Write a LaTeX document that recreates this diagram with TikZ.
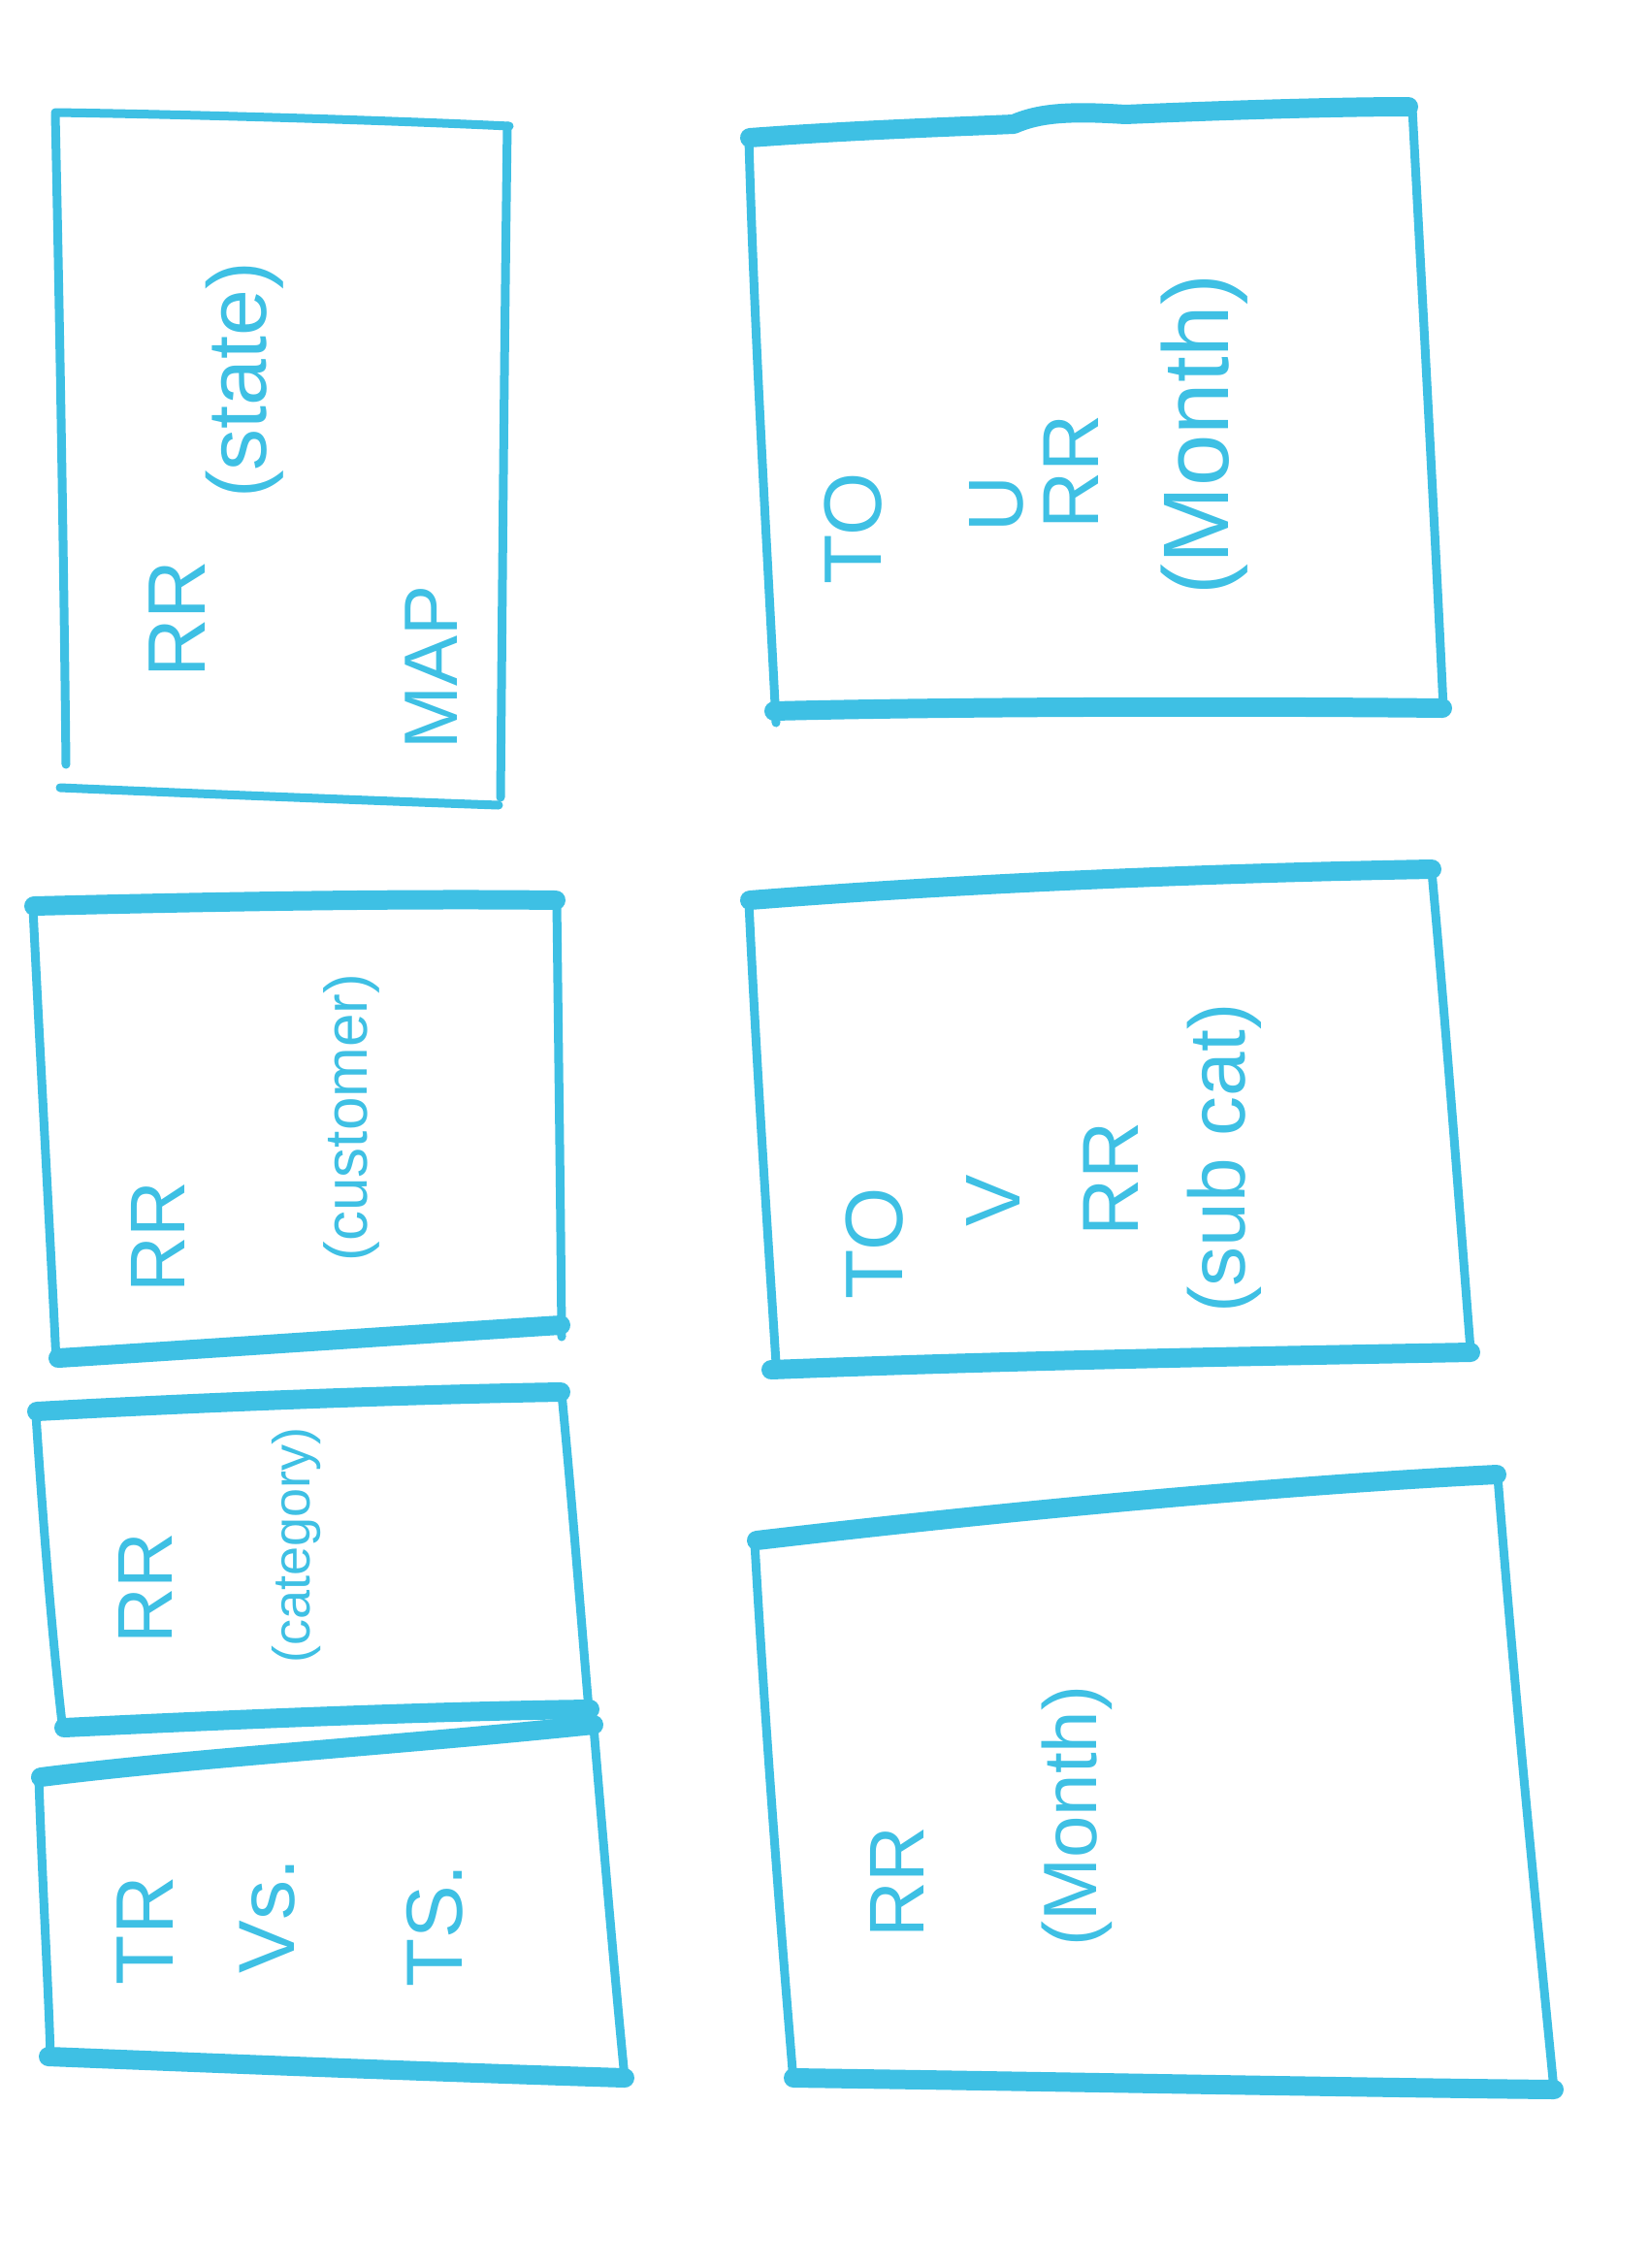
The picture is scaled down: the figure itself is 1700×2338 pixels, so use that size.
\documentclass[tikz,border=0pt]{standalone}
\usepackage{fontspec}
\setmainfont{Liberation Sans}
\definecolor{mk}{RGB}{62,192,228}
\tikzset{
  thin edge/.style={draw=mk, line width=9pt, line cap=round, line join=round},
  thick edge/.style={draw=mk, line width=20pt, line cap=round, line join=round},
  hand/.style={text=mk, rotate=90, inner sep=0pt, font=\fontsize{#1}{#1}\selectfont},
  hand/.default=80
}
\begin{document}
\begin{tikzpicture}[x=1pt,y=-1pt]
\useasboundingbox (0,0) rectangle (1700,2338);
\fill[white] (0,0) rectangle (1700,2338);

% ---- Box 1 (top left) ----
\draw[thin edge] (57,116) .. controls (200,118) and (400,124) .. (525,130);
\draw[thin edge] (523,130) .. controls (520,350) and (518,600) .. (516,822);
\draw[thin edge] (62,812) .. controls (200,818) and (400,826) .. (514,830);
\draw[thin edge] (57,118) .. controls (62,350) and (66,600) .. (68,788);
\node[hand=84] (b1a) at (183,638) {RR};
\node[hand=86] (b1b) at (252,392) {(state)};
\node[hand=78] (b1c) at (445,688) {MAP};

% ---- Box 2 (top right) ----
\draw[thick edge] (773,142) .. controls (880,134) and (1000,130) .. (1045,128)
  .. controls (1070,117) and (1100,114) .. (1160,118) .. controls (1300,112) and (1400,110) .. (1452,110);
\draw[thin edge] (1456,112) .. controls (1466,300) and (1478,520) .. (1488,730);
\draw[thick edge] (798,733) .. controls (1000,728) and (1300,728) .. (1487,730);
\draw[thin edge] (772,144) .. controls (778,350) and (790,550) .. (800,745);
\node[hand=84] (b2a) at (880,545) {TO};
\node[hand=80] (b2b) at (1027,520) {U};
\node[hand=82] (b2c) at (1104,486) {RR};
\node[hand=96] (b2d) at (1242,448) {(Month)};

% ---- Box 3 (middle left) ----
\draw[thick edge] (35,934) .. controls (200,930) and (400,926) .. (573,928);
\draw[thin edge] (574,930) .. controls (576,1100) and (578,1250) .. (579,1378);
\draw[thick edge] (60,1400) .. controls (250,1388) and (420,1376) .. (578,1366);
\draw[thin edge] (34,936) .. controls (42,1100) and (52,1280) .. (58,1404);
\node[hand=80] (b3a) at (163,1275) {RR};
\node[hand=62] (b3b) at (362,1152) {(customer)};

% ---- Box 4 (middle right) ----
\draw[thick edge] (773,928) .. controls (1000,910) and (1250,900) .. (1476,896);
\draw[thin edge] (1476,898) .. controls (1490,1050) and (1505,1250) .. (1516,1392);
\draw[thick edge] (795,1412) .. controls (1050,1402) and (1300,1398) .. (1516,1394);
\draw[thin edge] (772,930) .. controls (780,1100) and (792,1280) .. (800,1405);
\node[hand=84] (b4a) at (902,1282) {TO};
\node[hand=80] (b4b) at (1024,1238) {V};
\node[hand=82] (b4c) at (1145,1215) {RR};
\node[hand=82] (b4d) at (1262,1194) {(sub cat)};

% ---- Box 5 (lower left) ----
\draw[thick edge] (38,1455) .. controls (200,1446) and (400,1438) .. (578,1435);
\draw[thin edge] (579,1436) .. controls (590,1550) and (600,1680) .. (607,1762);
\draw[thick edge] (66,1781) .. controls (250,1772) and (450,1764) .. (608,1762);
\draw[thin edge] (37,1458) .. controls (45,1580) and (55,1700) .. (65,1785);
\node[hand=80] (b5a) at (150,1637) {RR};
\node[hand=54] (b5b) at (306,1593) {(category)};

% ---- Box 7 (bottom left) ----
\draw[thick edge] (42,1832) .. controls (200,1812) and (400,1800) .. (612,1778);
\draw[thin edge] (612,1780) .. controls (622,1900) and (634,2040) .. (644,2142);
\draw[thick edge] (50,2120) .. controls (250,2128) and (450,2136) .. (644,2142);
\draw[thin edge] (40,1834) .. controls (44,1950) and (50,2050) .. (52,2120);
\node[hand=84] (b7a) at (150,1990) {TR};
\node[hand=82] (b7b) at (276,1975) {Vs.};
\node[hand=82] (b7c) at (448,1985) {TS.};

% ---- Box 6 (bottom right) ----
\draw[thick edge] (780,1588) .. controls (1000,1562) and (1300,1532) .. (1543,1520);
\draw[thin edge] (1544,1522) .. controls (1562,1750) and (1585,1980) .. (1602,2154);
\draw[thick edge] (818,2142) .. controls (1100,2146) and (1400,2152) .. (1602,2154);
\draw[thin edge] (778,1590) .. controls (790,1800) and (806,2000) .. (818,2146);
\node[hand=80] (b6a) at (925,1940) {RR};
\node[hand=78] (b6b) at (1110,1872) {(Month)};
\end{tikzpicture}
\end{document}
